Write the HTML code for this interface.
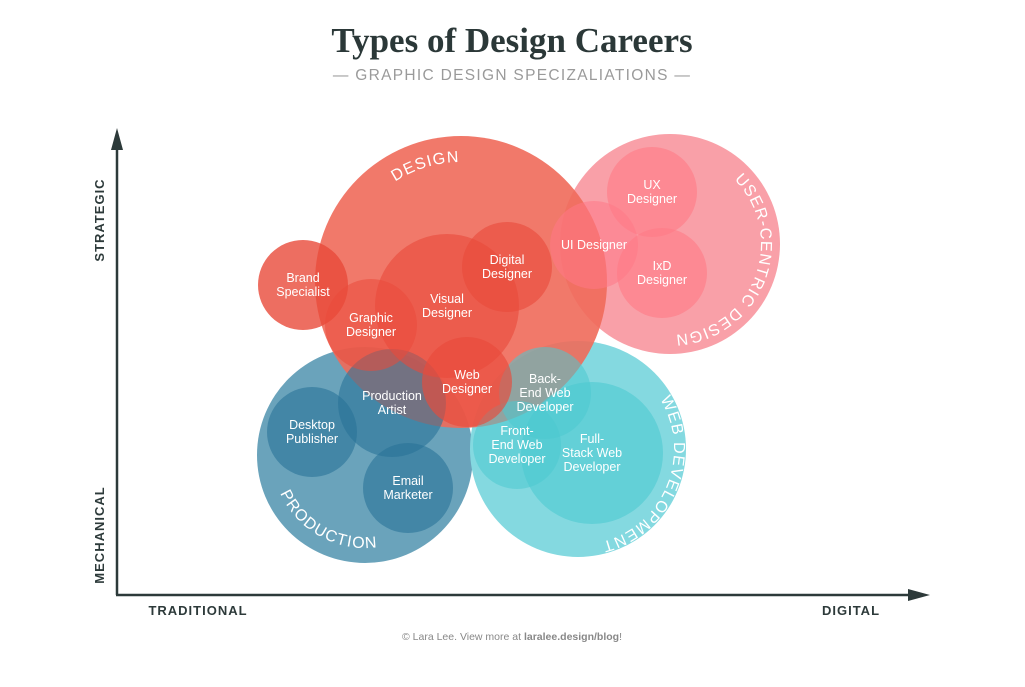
<!DOCTYPE html>
<html><head><meta charset="utf-8"><style>
html,body{margin:0;padding:0;background:#fff;}
body{width:1025px;height:682px;overflow:hidden;font-family:"Liberation Sans",sans-serif;}
</style></head><body>
<svg id="chart" width="1025" height="682" viewBox="0 0 1025 682" xmlns="http://www.w3.org/2000/svg">
<text x="512" y="52" text-anchor="middle" font-family="Liberation Serif, serif" font-weight="bold" font-size="35" fill="#2b3838">Types of Design Careers</text>
<text x="512" y="80" text-anchor="middle" font-size="15.5" fill="#9a9a9a" letter-spacing="1.3">— GRAPHIC DESIGN SPECIZALIATIONS —</text>
<g id="bubbles"></g>
<g stroke="#2d3a3a" stroke-width="2.5" fill="#2d3a3a">
<line x1="117" y1="140" x2="117" y2="595"/>
<polygon points="111,150 117,128 123,150" stroke="none"/>
<line x1="116" y1="595" x2="915" y2="595"/>
<polygon points="908,589 930,595 908,601" stroke="none"/>
</g>
<text transform="translate(104,220) rotate(-90)" text-anchor="middle" font-weight="bold" font-size="13" fill="#2d3a3a" letter-spacing="1">STRATEGIC</text>
<text transform="translate(104,535) rotate(-90)" text-anchor="middle" font-weight="bold" font-size="13" fill="#2d3a3a" letter-spacing="1">MECHANICAL</text>
<text x="198" y="615" text-anchor="middle" font-weight="bold" font-size="13" fill="#2d3a3a" letter-spacing="1">TRADITIONAL</text>
<text x="851" y="615" text-anchor="middle" font-weight="bold" font-size="13" fill="#2d3a3a" letter-spacing="1">DIGITAL</text>
<text x="512" y="640" text-anchor="middle" font-size="10.5" fill="#888">© Lara Lee. View more at <tspan font-weight="bold">laralee.design/blog</tspan>!</text>
</svg>
<script>
const NS='http://www.w3.org/2000/svg';
const groupNames=['production','web-development','user-centric-design','design'];
const groupLabels=['PRODUCTION','WEB DEVELOPMENT','USER-CENTRIC DESIGN','DESIGN'];
const groupCx=[365,578,670,461];
const groupCy=[455,449,244,282];
const groupR=[108,108,110,146];
const groupFill=['#6aa3bb','#84d9e0','#f9a0a8','#ef6a5a'];
const groupOpacity=[1,1,1,0.9];
const labelRadius=[93,96,91,120];
const labelOffset=[34,56.2,55.8,20.3];
const labelClockwise=[false,true,true,true];
const careerLabels=[['Desktop','Publisher'],['Email','Marketer'],['Production','Artist'],['Front-','End Web','Developer'],['Full-','Stack Web','Developer'],['Back-','End Web','Developer'],['UX','Designer'],['UI Designer'],['IxD','Designer'],['Brand','Specialist'],['Graphic','Designer'],['Visual','Designer'],['Digital','Designer'],['Web','Designer']];
const careerCx=[312,408,392,517,592,545,652,594,662,303,371,447,507,467];
const careerCy=[432,488,403,445,453,393,192,245,273,285,325,306,267,382];
const careerR=[45,45,54,44,71,46,45,44,45,45,46,72,45,45];
const careerFill=['#2a7397','#2a7397','#2a7397','#4cc9d0','#4cc9d0','#4cc9d0','#ff7986','#ff7986','#ff7986','#e94a3a','#e94a3a','#e94a3a','#e94a3a','#e94a3a'];
const careerOpacity=[0.6,0.6,0.6,0.55,0.6,0.55,0.6,0.55,0.6,0.8,0.55,0.6,0.6,0.65];

const g=document.getElementById('bubbles');
const defs=document.createElementNS(NS,'defs');g.appendChild(defs);
function circ(cx,cy,r,f,o){const c=document.createElementNS(NS,'circle');c.setAttribute('cx',cx);c.setAttribute('cy',cy);c.setAttribute('r',r);c.setAttribute('fill',f);c.setAttribute('fill-opacity',o);return c;}
for(let i=0;i<groupNames.length;i++){
  const c=circ(groupCx[i],groupCy[i],groupR[i],groupFill[i],groupOpacity[i]);
  
  
  g.appendChild(c);
}
const smallLayer=document.createElementNS(NS,'g');g.appendChild(smallLayer);
for(let i=0;i<careerLabels.length;i++){
  const c=circ(careerCx[i],careerCy[i],careerR[i],careerFill[i],careerOpacity[i]);
  const nm=careerLabels[i].join(' ').replace(/- /g,'-').toLowerCase().replace(/[^a-z]+/g,'-');
  
  
  smallLayer.appendChild(c);
}
for(let i=0;i<groupNames.length;i++){
  const R=labelRadius[i],cx=groupCx[i],cy=groupCy[i];
  const p=document.createElementNS(NS,'path');
  const id='lp'+i;p.setAttribute('id',id);
  if(labelClockwise[i]) p.setAttribute('d',`M${cx-R},${cy} A${R},${R} 0 1 1 ${cx+R},${cy} A${R},${R} 0 1 1 ${cx-R},${cy}`);
  else p.setAttribute('d',`M${cx-R},${cy} A${R},${R} 0 1 0 ${cx+R},${cy}`);
  defs.appendChild(p);
  const t=document.createElementNS(NS,'text');
  
  
  t.setAttribute('fill','#fff');t.setAttribute('font-size','16');t.setAttribute('letter-spacing','1.2');
  const tp=document.createElementNS(NS,'textPath');
  tp.setAttribute('href','#'+id);tp.setAttribute('startOffset',labelOffset[i]+'%');tp.setAttribute('text-anchor','middle');
  tp.textContent=groupLabels[i];t.appendChild(tp);g.appendChild(t);
}
for(let i=0;i<careerLabels.length;i++){
  const lines=careerLabels[i];const lh=14;
  const t=document.createElementNS(NS,'text');
  
  
  t.setAttribute('fill','#fff');t.setAttribute('font-size','12.5');t.setAttribute('text-anchor','middle');
  const y0=careerCy[i]-(lines.length-1)*lh/2+4;
  lines.forEach((s,k)=>{const ts=document.createElementNS(NS,'tspan');ts.setAttribute('x',careerCx[i]);ts.setAttribute('y',y0+k*lh);ts.textContent=s;t.appendChild(ts);});
  g.appendChild(t);
}
</script>
</body></html>
